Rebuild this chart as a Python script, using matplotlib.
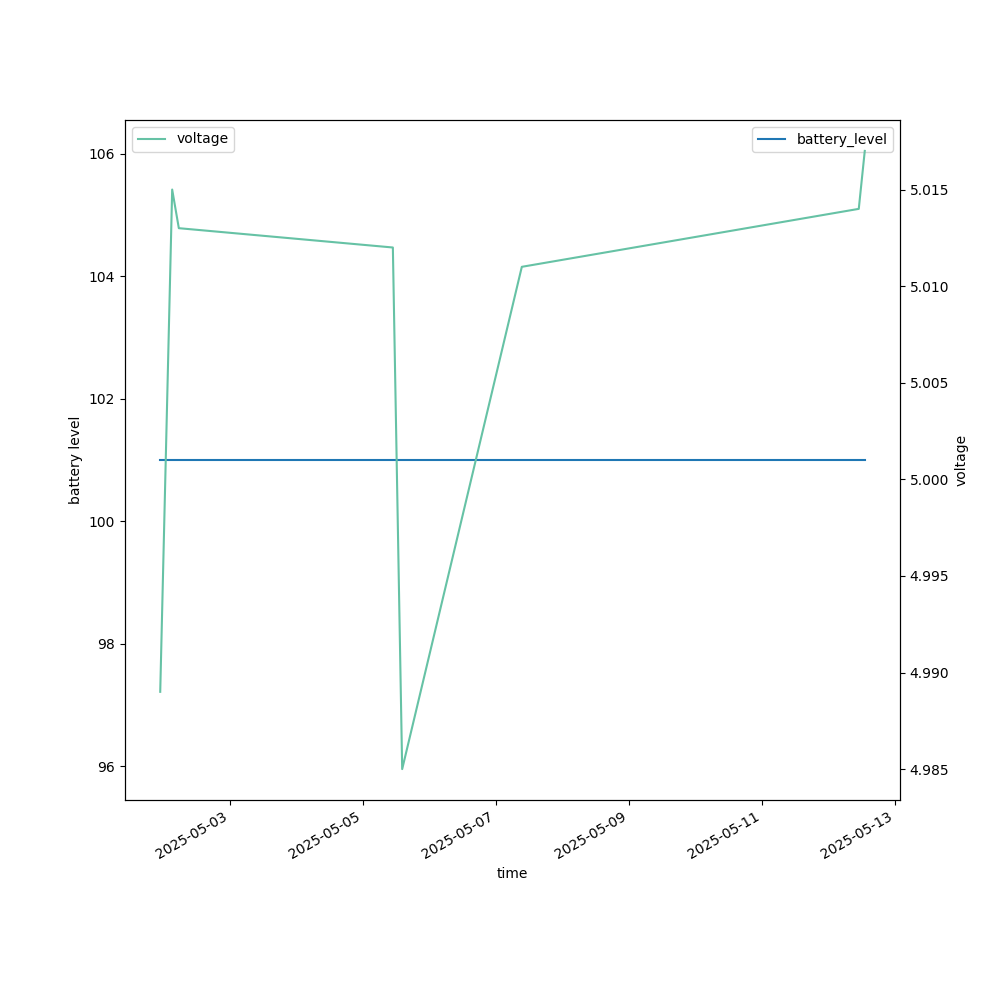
import matplotlib
matplotlib.use("Agg")
import matplotlib.pyplot as plt
import pandas as pd

# readings
times = pd.to_datetime([
    "2025-05-01 22:48", "2025-05-02 03:07", "2025-05-02 05:31",
    "2025-05-05 10:48", "2025-05-05 14:10", "2025-05-07 09:22",
    "2025-05-12 11:02", "2025-05-12 13:12",
])
voltage = [4.989, 5.015, 5.013, 5.012, 4.985, 5.011, 5.014, 5.017]
battery_level = [101, 101, 101, 101, 101, 101, 101, 101]

fig, ax = plt.subplots(figsize=(10, 10), dpi=100)
ax.plot(times, battery_level, color="#1f77b4", label="battery_level")
ax.set_ylabel("battery level")
ax.set_xlabel("time")
ax.legend(loc="upper right")

ax2 = ax.twinx()
ax2.plot(times, voltage, color="#66c2a5", label="voltage")
ax2.set_ylabel("voltage")
ax2.legend(loc="upper left")

fig.autofmt_xdate()
fig.savefig("out.png")
